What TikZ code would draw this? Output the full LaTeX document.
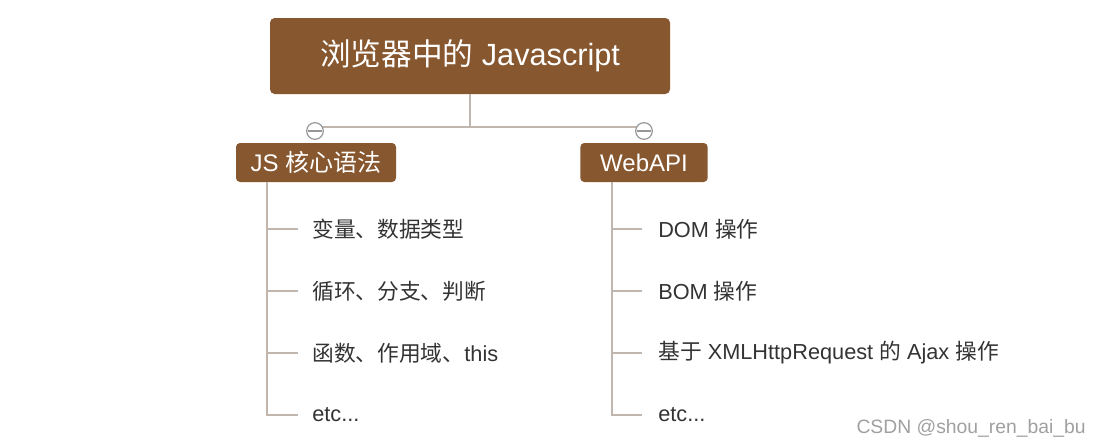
\documentclass[tikz,border=0pt]{standalone}
\usepackage{fontspec}
\setmainfont{Liberation Sans}
\newfontfamily\cjkfont{Noto Sans CJK SC}
\newcommand\zh[1]{{\cjkfont #1}}
\definecolor{boxbrown}{RGB}{135,87,47}
\definecolor{linegray}{RGB}{192,182,173}
\definecolor{txtgray}{RGB}{51,51,51}
\definecolor{circgray}{RGB}{150,150,150}
\definecolor{wmgray}{RGB}{160,160,160}
\begin{document}
\begin{tikzpicture}[x=0.75pt,y=-0.75pt]
\useasboundingbox (0,0) rectangle (1100,446);
\tikzset{
  rootbox/.style={fill=boxbrown, rounded corners=3.5pt, text=white, inner sep=0pt,
    minimum width=300pt, minimum height=57pt, font=\fontsize{23}{28}\selectfont},
  midbox/.style={fill=boxbrown, rounded corners=3pt, text=white, inner sep=0pt,
    minimum height=29.25pt, font=\fontsize{18}{22}\selectfont},
  leaf/.style={anchor=west, inner sep=0pt, text=txtgray, font=\fontsize{16.3}{20}\selectfont},
  conn/.style={draw=linegray, line width=1.6pt},
  thinconn/.style={draw=linegray, line width=1.3pt},
  fold/.style={circle, draw=circgray, fill=white, line width=0.9pt, minimum size=12.5pt, inner sep=0pt},
}
% nodes
\node[rootbox] (root) at (470,56) {\zh{浏览器中的} Javascript};
\node[midbox, minimum width=120pt] (js) at (316,162.5) {JS \zh{核心语法}};
\node[midbox, minimum width=95.5pt] (web) at (644,162.5) {WebAPI};
% connectors from root
\coordinate (hy) at (470,127);
\draw[conn] (root.south) -- (root.south |- hy);
\draw[conn] (js.north |- hy) -- (web.north |- hy);
\node[fold] (fjs) at (315,131) {};
\node[fold] (fweb) at (644,131) {};
\draw[circgray, line width=0.9pt] ([xshift=-5.5pt]fjs.center) -- ([xshift=5.5pt]fjs.center);
\draw[circgray, line width=0.9pt] ([xshift=-5.5pt]fweb.center) -- ([xshift=5.5pt]fweb.center);
% left leaves
\node[leaf] (l1) at (312,229) {\zh{变量、数据类型}};
\node[leaf] (l2) at (312,291) {\zh{循环、分支、判断}};
\node[leaf] (l3) at (312,353) {\zh{函数、作用域、}this};
\node[leaf] (l4) at (312,415) {etc...};
\coordinate (lv) at (267,182);
\draw[thinconn] (lv) |- ([xshift=-10.5pt]l4.west);
\foreach \n in {l1,l2,l3} {
  \draw[thinconn] (lv |- \n.west) -- ([xshift=-10.5pt]\n.west);
}
% right leaves
\node[leaf] (r1) at (658,229) {DOM \zh{操作}};
\node[leaf] (r2) at (658,291) {BOM \zh{操作}};
\node[leaf] (r3) at (658,353) {\zh{基于} XMLHttpRequest \zh{的} Ajax \zh{操作}};
\node[leaf] (r4) at (658,415) {etc...};
\coordinate (rv) at (612,182);
\draw[thinconn] (rv) |- ([xshift=-12pt]r4.west);
\foreach \n in {r1,r2,r3} {
  \draw[thinconn] (rv |- \n.west) -- ([xshift=-12pt]\n.west);
}
% watermark
\node[anchor=east, inner sep=0pt, text=wmgray, font=\fontsize{14.5}{17}\selectfont] (wm) at (1086,428) {CSDN @shou\_ren\_bai\_bu};
\end{tikzpicture}
\end{document}
